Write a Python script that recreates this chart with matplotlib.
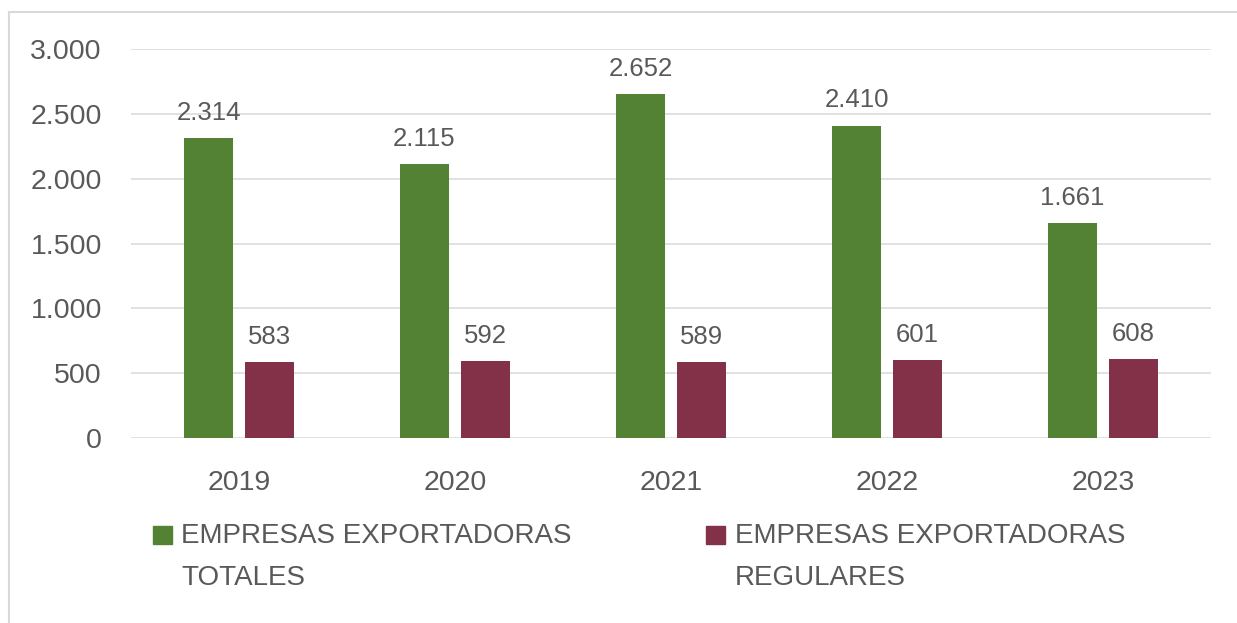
import numpy as np
import matplotlib
matplotlib.use("Agg")
import matplotlib.pyplot as plt
import matplotlib.patches as ptchs
from matplotlib.lines import Line2D

########### DATA ###########
YEARS = ["2019", "2020", "2021", "2022", "2023"]
TOTALES = [2314, 2115, 2652, 2410, 1661]
REGULARES = [583, 592, 589, 601, 608]
SERIES_NAMES = ["EMPRESAS EXPORTADORAS\nTOTALES", "EMPRESAS EXPORTADORAS\nREGULARES"]
COLORS = ["#548235", "#833049"]
Y_TICKS = [0, 500, 1000, 1500, 2000, 2500, 3000]
############################

W, H = 1237, 623
TEXT = "#595959"
GRID = "#D9D9D9"

plt.rcParams['font.family'] = ['Liberation Sans', 'DejaVu Sans']

fig = plt.figure(figsize=(W / 100, H / 100), dpi=100)
ax = fig.add_axes([131 / W, 1 - 438 / H, 1080 / W, 389 / H])


def fmt(v):
    return f"{v:,}".replace(",", ".")


x = np.arange(len(YEARS))
bw = 0.227
off = 0.141
for vals, col, sign in [(TOTALES, COLORS[0], -1), (REGULARES, COLORS[1], 1)]:
    bars = ax.bar(x + sign * off, vals, width=bw, color=col, zorder=3)
    for b, v in zip(bars, vals):
        ax.annotate(fmt(v), (b.get_x() + b.get_width() / 2, v), xytext=(0, 13),
                    textcoords="offset points", ha="center", va="baseline",
                    fontsize=18.5, color=TEXT)

ax.set_xlim(-0.5, len(YEARS) - 0.5)
ax.set_ylim(0, 3000)
ax.set_yticks(Y_TICKS)
ax.set_yticklabels([fmt(t) for t in Y_TICKS])
ax.set_xticks(x)
ax.set_xticklabels(YEARS)
ax.tick_params(axis="y", length=0, pad=21, labelsize=20.5, labelcolor=TEXT)
ax.tick_params(axis="x", length=0, pad=23, labelsize=20.5, labelcolor=TEXT)
ax.grid(axis="y", color=GRID, linewidth=1.1, zorder=0)
for s in ax.spines.values():
    s.set_visible(False)

# legend drawn by hand to match the placement
sq_x = [153, 706]
txt_x = [181, 735]
for i in range(2):
    fig.patches.append(ptchs.Rectangle((sq_x[i] / W, 1 - 544 / H), 19 / W, 18 / H,
                                       transform=fig.transFigure, color=COLORS[i]))
    fig.text(txt_x[i] / W, 1 - 585 / H, SERIES_NAMES[i], ha="left", va="baseline",
             fontsize=20, color=TEXT, linespacing=1.78)

# chart border (top and left visible)
fig.lines.append(Line2D([9 / W, 1.0], [1 - 11.5 / H, 1 - 11.5 / H],
                        transform=fig.transFigure, color=GRID, linewidth=1.5))
fig.lines.append(Line2D([9 / W, 9 / W], [0, 1 - 11.5 / H],
                        transform=fig.transFigure, color=GRID, linewidth=1.5))

fig.savefig("out.png", dpi=100)
